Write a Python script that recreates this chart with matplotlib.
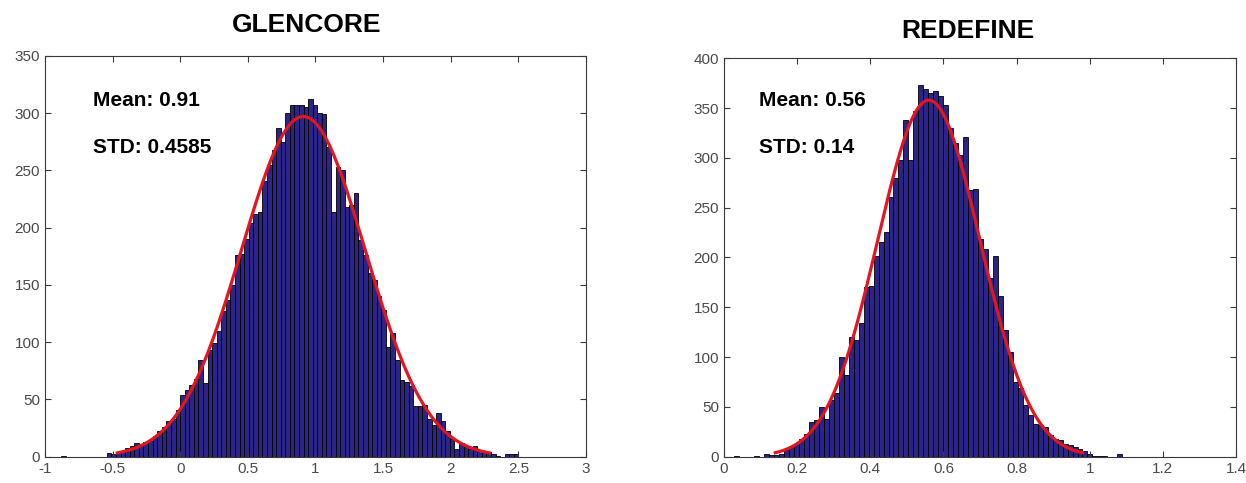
import numpy as np
import matplotlib
matplotlib.use("Agg")
import matplotlib.pyplot as plt

# --------------------------
# Data
# --------------------------
# GLENCORE: 100 bins, first edge at -0.88, width 0.0338
glen_start, glen_width = -0.88, 0.0338
glen_counts = [
    1, 0, 0, 0, 0, 0, 0, 0, 0, 0,
    3, 2, 4, 5, 8, 9, 12, 11, 13, 14,
    18, 22, 26, 31, 33, 41, 54, 58, 63, 68,
    84, 64, 93, 99, 110, 127, 137, 150, 176, 177,
    190, 204, 212, 214, 241, 255, 268, 287, 275, 300,
    307, 307, 307, 305, 312, 307, 300, 299, 270, 214,
    253, 250, 218, 220, 230, 189, 176, 160, 154, 140,
    128, 96, 108, 84, 67, 65, 62, 44, 44, 45,
    33, 28, 38, 31, 22, 15, 7, 12, 9, 7,
    9, 6, 4, 4, 2, 1, 0, 2, 2, 2,
]
glen_mean, glen_std, glen_peak = 0.91, 0.4585, 297

# REDEFINE: 78 bins, first edge at 0.0281, width 0.0136
rede_start, rede_width = 0.0281, 0.0136
rede_counts = [
    1, 0, 0, 0, 1, 0, 3, 2, 2, 3,
    7, 10, 13, 18, 23, 35, 37, 50, 38, 57,
    64, 100, 82, 120, 117, 134, 170, 171, 201, 216,
    226, 261, 280, 298, 338, 298, 347, 373, 369, 365,
    367, 362, 353, 330, 315, 303, 321, 268, 269, 219,
    209, 179, 201, 161, 127, 105, 75, 69, 52, 42,
    33, 32, 30, 22, 18, 17, 13, 12, 10, 8,
    6, 3, 1, 1, 1, 0, 0, 3,
]
rede_mean, rede_std, rede_peak = 0.56, 0.14, 358

BAR_COLOR = "#2c2488"
FIT_COLOR = "#e3161f"
AX_GRAY = "#3a3a3a"

fig = plt.figure(figsize=(12.46, 4.83), dpi=100)
plt.rcParams['font.family'] = ['Liberation Sans', 'DejaVu Sans']


def draw_hist(ax, start, width, counts, mu, sd, peak, xlim, xticks, xlabels, ylim, yticks):
    counts = np.asarray(counts, dtype=float)
    lefts = start + width * np.arange(len(counts))
    ax.bar(lefts, counts, width=width, align="edge", color=BAR_COLOR,
           edgecolor="black", linewidth=0.6)
    # normal fit over mu +/- 3 sd
    xs = np.linspace(mu - 3 * sd, mu + 3 * sd, 300)
    ax.plot(xs, peak * np.exp(-0.5 * ((xs - mu) / sd) ** 2), color=FIT_COLOR, lw=2.3)
    ax.set_xlim(*xlim)
    ax.set_ylim(*ylim)
    ax.set_xticks(xticks)
    ax.set_xticklabels(xlabels)
    ax.set_yticks(yticks)
    ax.tick_params(direction="in", top=True, right=True, length=4,
                   colors=AX_GRAY, labelcolor="#4a4a4a", labelsize=11, width=0.8)
    for s in ax.spines.values():
        s.set_color(AX_GRAY)
        s.set_linewidth(0.8)


ax1 = fig.add_axes([0.0361, 0.0545, 0.4342, 0.830])
draw_hist(ax1, glen_start, glen_width, glen_counts, glen_mean, glen_std, glen_peak,
          (-1, 3), np.arange(-1, 3.01, 0.5),
          ["-1", "-0.5", "0", "0.5", "1", "1.5", "2", "2.5", "3"],
          (0, 350), np.arange(0, 351, 50))
ax1.text(0.088, 0.889, f"Mean: {glen_mean:.2f}", transform=ax1.transAxes,
         fontsize=15, fontweight="bold", va="center")
ax1.text(0.088, 0.772, f"STD: {glen_std}", transform=ax1.transAxes,
         fontsize=15, fontweight="bold", va="center")

ax2 = fig.add_axes([0.5811, 0.0545, 0.4109, 0.8248])
draw_hist(ax2, rede_start, rede_width, rede_counts, rede_mean, rede_std, rede_peak,
          (0, 1.4), np.arange(0, 1.41, 0.2),
          ["0", "0.2", "0.4", "0.6", "0.8", "1", "1.2", "1.4"],
          (0, 400), np.arange(0, 401, 50))
ax2.text(0.068, 0.895, f"Mean: {rede_mean:.2f}", transform=ax2.transAxes,
         fontsize=15, fontweight="bold", va="center")
ax2.text(0.068, 0.777, f"STD: {rede_std:.2f}", transform=ax2.transAxes,
         fontsize=15, fontweight="bold", va="center")

fig.text(0.2464, 0.948, "GLENCORE", ha="center", va="center", fontsize=19, fontweight="bold")
fig.text(0.777, 0.936, "REDEFINE", ha="center", va="center", fontsize=19, fontweight="bold")

fig.savefig("out.png", dpi=100)
